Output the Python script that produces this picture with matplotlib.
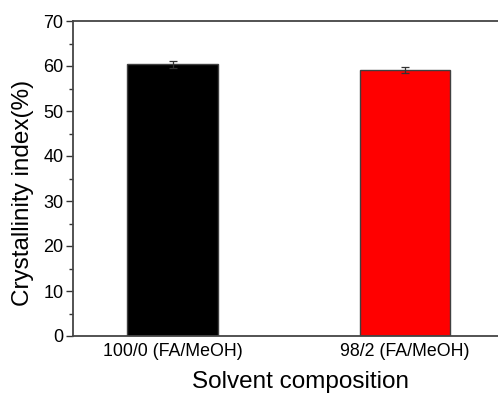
import matplotlib
matplotlib.use("Agg")
import matplotlib.pyplot as plt
from matplotlib.ticker import MultipleLocator

plt.rcParams["font.family"] = ["Liberation Sans", "DejaVu Sans"]

# crystallinity index per solvent composition
categories = ["100/0 (FA/MeOH)", "98/2 (FA/MeOH)"]
crystallinity = [60.4, 59.1]
errors = [0.8, 0.7]
bar_colors = ["#000000", "#ff0000"]

fig = plt.figure(figsize=(4.98, 3.95), dpi=100)
# axes run past the right edge of the figure, as in the original export
ax = fig.add_axes([73 / 498, 1 - 336 / 395, 432 / 498, 315 / 395])

x = [1, 2]
ax.bar(x, crystallinity, width=0.39, color=bar_colors, edgecolor="#404040",
       linewidth=1.0, zorder=2)
ax.errorbar(x, crystallinity, yerr=errors, fmt="none", ecolor="#333333",
            elinewidth=0.9, capsize=3, capthick=0.9, zorder=3)

ax.set_xlim(0.572, 2.43)
ax.set_ylim(0, 70)
ax.set_xticks(x)
ax.set_xticklabels(categories, fontsize=12.8)
ax.yaxis.set_major_locator(MultipleLocator(10))
ax.yaxis.set_minor_locator(MultipleLocator(5))
ax.tick_params(axis="y", which="major", labelsize=13, length=5, width=1, color="#333333", direction="out", pad=2)
ax.tick_params(axis="y", which="minor", length=3, width=1, color="#333333", direction="out")
ax.tick_params(axis="x", length=0, pad=5)

for side in ["left", "bottom", "top"]:
    ax.spines[side].set_color("#444444")
    ax.spines[side].set_linewidth(1.3)
ax.spines["right"].set_visible(False)

ax.set_ylabel("Crystallinity index(%)", fontsize=17.5)
ax.yaxis.set_label_coords(-(73 - 34) / 432, (336 - 193) / 315)
ax.set_xlabel("Solvent composition", fontsize=17.5)
ax.xaxis.set_label_coords((300 - 73) / 432, -(371 - 336) / 315)

fig.savefig("out.png", dpi=100)
